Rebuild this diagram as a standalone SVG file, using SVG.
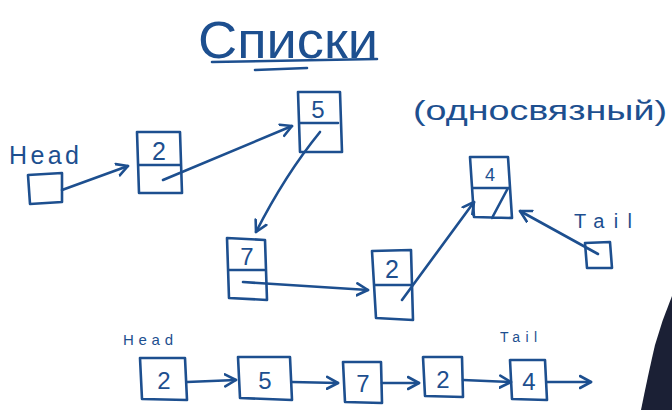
<svg xmlns="http://www.w3.org/2000/svg" width="672" height="410" viewBox="0 0 672 410">
<defs>
<style>
.ink{fill:none;stroke:#1d4f8f;stroke-width:2.6;stroke-linecap:round;stroke-linejoin:round}
.t{font-family:"Liberation Sans","DejaVu Sans",sans-serif;fill:#1d4f8f}
</style>
<marker id="ah" markerUnits="userSpaceOnUse" markerWidth="16" markerHeight="16" refX="12" refY="7" orient="auto" viewBox="0 0 16 14">
<path d="M1,1 L12,7 L1,13" fill="none" stroke="#1d4f8f" stroke-width="2.6" stroke-linecap="round" stroke-linejoin="round"/>
</marker>
</defs>
<rect width="672" height="410" fill="#ffffff"/>
<g id="title">
<text class="t" x="198" y="58" font-size="52" textLength="180" lengthAdjust="spacingAndGlyphs">Списки</text>
<path class="ink" d="M212,62 L377,59 M255,70 L307,68"/>
</g>
<g id="subtitle">
<text class="t" x="413" y="120" font-size="28" textLength="254" lengthAdjust="spacingAndGlyphs">(односвязный)</text>
</g>
<g id="head">
<text class="t" x="9" y="164" font-size="25" textLength="70" lengthAdjust="spacing">Head</text>
<path class="ink" d="M28,175 L62,173 L62,202 L30,204 Z"/>
</g>
<g id="node-2a">
<path class="ink" d="M137,132 L180,132 L182,193 L139,193 Z M138,165 L180,165"/>
<text class="t" x="159" y="160" font-size="25" text-anchor="middle">2</text>
</g>
<g id="node-5">
<path class="ink" d="M298,92 L340,92 L342,152 L300,152 Z M300,123 L338,123"/>
<text class="t" x="318" y="118" font-size="24" text-anchor="middle">5</text>
</g>
<g id="node-7">
<path class="ink" d="M227,238 L265,240 L267,300 L229,298 Z M228,270 L264,270"/>
<text class="t" x="247" y="265" font-size="24" text-anchor="middle">7</text>
</g>
<g id="node-2b">
<path class="ink" d="M372,251 L411,250 L413,320 L376,318 Z M374,285 L411,285"/>
<text class="t" x="392" y="278" font-size="25" text-anchor="middle">2</text>
</g>
<g id="node-4">
<path class="ink" d="M470,157 L508,157 L512,218 L474,217 Z M472,188 L507,188 M492,218 L508,188"/>
<text class="t" x="490" y="181" font-size="18" text-anchor="middle">4</text>
</g>
<g id="tail">
<text class="t" x="574" y="228" font-size="20" textLength="58" lengthAdjust="spacing">Tail</text>
<path class="ink" d="M585,243 L610,242 L612,268 L587,268 Z"/>
</g>
<g id="row">
<text class="t" x="123" y="345" font-size="15" textLength="50" lengthAdjust="spacing">Head</text>
<text class="t" x="500" y="342" font-size="14" textLength="37" lengthAdjust="spacing">Tail</text>
<g id="r2a"><path class="ink" d="M140,358 L185,358 L187,400 L142,399 Z"/><text class="t" x="164" y="389" font-size="24" text-anchor="middle">2</text></g>
<g id="r5"><path class="ink" d="M238,357 L290,357 L292,400 L240,398 Z"/><text class="t" x="265" y="389" font-size="24" text-anchor="middle">5</text></g>
<g id="r7"><path class="ink" d="M343,362 L381,362 L382,403 L345,402 Z"/><text class="t" x="363" y="392" font-size="24" text-anchor="middle">7</text></g>
<g id="r2b"><path class="ink" d="M423,357 L462,357 L463,397 L425,396 Z"/><text class="t" x="443" y="388" font-size="24" text-anchor="middle">2</text></g>
<g id="r4"><path class="ink" d="M510,360 L545,360 L547,400 L512,399 Z"/><text class="t" x="529" y="390" font-size="24" text-anchor="middle">4</text></g>
</g>
<g id="connectors">
<path class="ink" marker-end="url(#ah)" d="M62,190 L128,166"/>
<path class="ink" marker-end="url(#ah)" d="M163,180 L292,126"/>
<path class="ink" marker-end="url(#ah)" d="M320,132 Q285,175 256,232"/>
<path class="ink" marker-end="url(#ah)" d="M243,282 L368,290"/>
<path class="ink" marker-end="url(#ah)" d="M402,300 L474,202"/>
<path class="ink" marker-end="url(#ah)" d="M598,254 L520,211"/>
<path class="ink" marker-end="url(#ah)" d="M187,382 L236,380"/>
<path class="ink" marker-end="url(#ah)" d="M292,382 L338,383"/>
<path class="ink" marker-end="url(#ah)" d="M382,383 L419,383"/>
<path class="ink" marker-end="url(#ah)" d="M463,380 L511,382"/>
<path class="ink" marker-end="url(#ah)" d="M547,382 L591,382"/>
</g>
<path d="M672,296 Q662,320 655,345 Q648,375 641,410 L672,410 Z" fill="#1b2035"/>
</svg>
